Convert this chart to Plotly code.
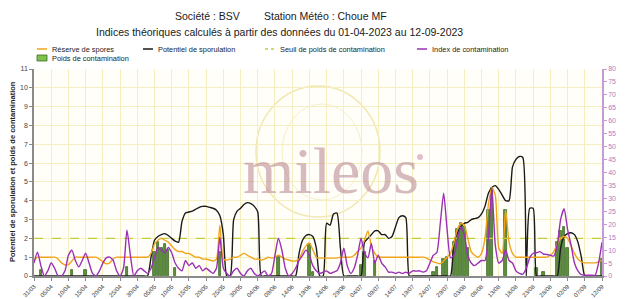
import plotly.graph_objects as go
import pandas as pd

# ---------------- data ----------------
dates = pd.date_range("2023-03-31", "2023-09-12", freq="D")  # 166 days

potentiel = [0]*34 + [
    1.0, 1.9, 2.1, 2.2, 2.25, 2.15, 2.0, 1.85, 1.8, 2.9, 3.35, 3.4, 3.45, 3.55, 3.65, 3.7, 3.7,
    3.65, 3.6, 3.5, 3.2, 2.2, 0, 0, 3.0, 3.45, 3.6, 3.8, 3.9, 3.85, 3.7, 3.4, 0] + [0]*10 + [
    1.2, 1.9, 2.15, 2.2, 2.1, 1.5, 0, 0, 2.8, 2.7, 3.3, 3.35, 1.5, 0] + [0]*5 + [
    1.8, 2.0, 2.2, 2.4, 2.4, 2.2, 2.2, 2.0, 2.1, 2.6, 3.1, 3.2, 3.1, 0] + [0]*12 + [
    1.8, 2.3, 2.6, 2.8, 2.85, 3.0, 3.05, 3.1, 3.3, 3.7, 4.4, 4.7, 4.8, 4.6, 4.3, 4.0, 4.0,
    5.8, 6.2, 6.35, 6.3, 0, 3.6, 3.6, 0] + [0]*6 + [
    1.5, 2.1, 2.25, 2.3, 2.2, 1.8, 1.0] + [0]*6

reserve = [
    0.8, 1.0, 1.0, 1.0, 1.0, 1.0, 1.0, 0.9, 0.7, 0.6, 0.6, 0.8, 1.0, 1.0, 1.0, 1.0, 1.0, 1.0,
    1.0, 0.9, 0.75, 0.65, 0.7, 0.9, 1.0, 1.0, 1.0, 1.0, 1.0, 1.0, 1.0, 1.0, 1.0, 1.0,
    1.2, 1.7, 1.9, 2.0, 1.9, 1.8, 1.6, 1.4, 1.3, 1.3, 1.2, 1.2, 1.1, 1.0, 1.0, 0.9, 0.9, 0.85,
    0.8, 0.9, 2.7, 0.9,
    0.85, 0.9, 1.0, 1.0, 1.1, 1.2, 1.1, 1.0, 0.9, 0.9, 0.85, 0.9, 1.0, 0.95, 1.0, 1.1, 1.0,
    0.9, 0.85, 0.8, 0.8, 0.9, 1.3, 1.6, 1.75, 1.4, 1.0,
    0.95, 0.95, 0.95, 0.95, 0.95, 0.95, 1.0, 1.0, 1.0, 1.0, 1.1, 1.3, 1.5, 1.9, 2.4, 1.6, 1.2,
    1.0, 1.0, 1.0, 1.0, 1.0, 1.0, 1.0, 1.0, 1.0, 1.0, 1.0, 1.0, 1.0, 1.0, 0.95, 0.85, 0.75,
    0.7, 0.65, 0.8, 1.0, 1.2,
    1.8, 2.5, 2.8, 2.7, 2.0, 1.3, 1.1, 1.0, 1.2, 2.0, 3.8, 4.7, 4.3, 1.5, 1.2, 3.5, 1.8, 1.2,
    1.0, 1.0, 1.0, 1.0, 1.0, 1.0, 1.0, 1.0, 1.0, 1.0, 1.1, 1.3, 1.7, 2.0, 2.1, 2.0, 1.6, 1.2,
    0.9, 0.75, 0.7, 0.7, 0.7, 0.7, 0.75, 0.85]

index_contamination = [
    5, 9.2, 4, 0, 2, 5, 3, 0, 0, 2, 8, 10, 6, 3.5, 6, 8.8, 5, 1, 0, 2, 5, 7, 7.3, 6, 2, 0, 3,
    17.7, 8, 0, 2, 3, 2, 1,
    3, 7, 11, 10, 9, 11, 9, 5, 3, 2, 6, 4, 5, 3, 4, 2, 3, 2, 1, 3, 15, 3,
    1, 0, 2, 3, 1, 0, 2, 3, 1, 0, 1, 2, 0, 1, 8, 14.6, 10, 3, 0, 1, 3, 6, 8, 10, 8, 4, 2,
    1, 1.5, 2, 1, 1.5, 2, 5, 10.7, 4, 1, 3, 8, 14.6, 8.8, 7, 12.6, 5, 8, 5, 3.5, 1.5, 1.5, 1,
    1.5, 1, 1.5, 1, 2, 1.9, 2, 1.5, 2, 5, 8, 9, 20, 32, 18, 7,
    8, 14, 19, 16, 8, 5, 4, 5, 6, 6, 15, 34, 12, 5, 6, 10, 6, 5,
    2, 1, 0.7, 3, 7, 8.8, 9, 9.4, 8.5, 8.3, 8, 7.7, 12, 22, 26, 18, 12, 5, 2, 0.5, 0.3, 0.3,
    0.3, 0.3, 5, 13]

poids_jours = ["2023-04-02", "2023-04-11", "2023-04-15", "2023-04-27", "2023-05-05",
               "2023-05-06", "2023-05-07", "2023-05-08", "2023-05-09", "2023-05-11",
               "2023-05-24", "2023-06-10", "2023-06-19", "2023-06-20", "2023-07-04",
               "2023-07-05", "2023-07-08", "2023-07-25", "2023-07-26", "2023-07-28",
               "2023-07-29", "2023-07-31", "2023-08-01", "2023-08-02", "2023-08-03",
               "2023-08-04", "2023-08-10", "2023-08-11", "2023-08-15", "2023-08-24",
               "2023-08-26", "2023-08-30", "2023-08-31", "2023-09-01", "2023-09-02",
               "2023-09-12"]
poids_valeurs = [0.3, 0.3, 0.3, 0.5, 1.3, 1.8, 1.5, 1.7, 1.4, 0.4, 1.3, 1.0, 1.7, 0.2, 0.6,
                 1.3, 0.8, 0.2, 0.5, 0.9, 1.0, 1.8, 2.5, 2.8, 2.6, 1.5, 3.5, 4.7, 3.5, 0.4,
                 0.2, 1.8, 2.4, 2.6, 1.5, 0.9]

seuil = 2

# ---------------- layout helpers (window pixel -> paper) ----------------
OFF = 8                      # page offset of the figure inside the window
WIN_W, WIN_H = 627, 299
W, H = WIN_W - OFF, WIN_H - OFF
L, R, T, B = 34, 602, 69, 276   # plot area in window pixels
def px(x):
    return (x - L) / (R - L)
def py(y):
    return (B - y) / (B - T)

FONT = "Liberation Sans, Arial, sans-serif"
ORANGE = "#f0a41c"
BLACK = "#1a1a1a"
PURPLE = "#9b2fb5"
SEUIL_C = "#c3cf3a"
GREEN = "#7cc24a"
GREEN_D = "#3f6b2a"
GRID = "#f4eec0"

fig = go.Figure()

fig.add_trace(go.Bar(x=poids_jours, y=poids_valeurs, name="Poids de contamination",
                     width=0.7 * 86400000, marker=dict(color="#5e8f3c",
                     line=dict(color=GREEN_D, width=0.8)), showlegend=False))
fig.add_trace(go.Scatter(x=[dates[0], dates[-1]], y=[seuil, seuil], mode="lines",
                         name="Seuil de poids de contamination",
                         line=dict(color=SEUIL_C, width=1.2, dash="dash"), showlegend=False))
fig.add_trace(go.Scatter(x=dates, y=potentiel, mode="lines", name="Potentiel de sporulation",
                         line=dict(color=BLACK, width=1.4, shape="spline", smoothing=0.6),
                         showlegend=False))
fig.add_trace(go.Scatter(x=dates, y=reserve, mode="lines", name="Réserve de spores",
                         line=dict(color=ORANGE, width=1.4, shape="spline", smoothing=0.6),
                         showlegend=False))
fig.add_trace(go.Scatter(x=dates, y=index_contamination, mode="lines", yaxis="y2",
                         name="Index de contamination",
                         line=dict(color=PURPLE, width=1.4, shape="spline", smoothing=0.6),
                         showlegend=False))

annotations = []
shapes = []

def text(t, x, y, size, color="#222", xanchor="center", angle=0, family=FONT):
    annotations.append(dict(text=t, xref="paper", yref="paper", x=px(x), y=py(y),
                            xanchor=xanchor, yanchor="middle", textangle=angle,
                            showarrow=False, font=dict(family=family, size=size, color=color)))

# watermark
shapes.append(dict(type="circle", xref="paper", yref="paper", layer="below",
                   x0=px(256), x1=px(380), y0=py(217), y1=py(86),
                   line=dict(color="#f3e7b0", width=1.5)))
shapes.append(dict(type="circle", xref="paper", yref="paper", layer="below",
                   x0=px(282), x1=px(362), y0=py(200), y1=py(104),
                   line=dict(color="#f7efc8", width=1)))
text("mileos", 331, 170, 66, "rgba(180,130,140,0.55)",
     family="Liberation Serif, Times New Roman, serif")
shapes.append(dict(type="circle", xref="paper", yref="paper", layer="below",
                   x0=px(417), x1=px(423), y0=py(160), y1=py(154),
                   fillcolor="rgba(215,160,190,0.7)", line=dict(width=0)))

# titles
text("Société : BSV", 207, 16, 10.5, "#1a1a1a")
text("Station Météo : Choue MF", 325, 16, 10.5, "#1a1a1a")
text("Indices théoriques calculés à partir des données du 01-04-2023 au 12-09-2023",
     279, 32, 10.5, "#1a1a1a")

# manual legend
leg = [
    ("Réserve de spores", 37, 49, ORANGE, "solid"),
    ("Potentiel de sporulation", 143, 49, BLACK, "solid"),
    ("Seuil de poids de contamination", 265, 49, SEUIL_C, "dot"),
    ("Index de contamination", 417, 49, PURPLE, "solid"),
]
for t, x0, y0, col, dash in leg:
    shapes.append(dict(type="line", xref="paper", yref="paper", x0=px(x0), x1=px(x0 + 10),
                       y0=py(y0), y1=py(y0), line=dict(color=col, width=1.5, dash=dash)))
    text(t, x0 + 13, y0, 7.4, xanchor="left")
shapes.append(dict(type="rect", xref="paper", yref="paper", x0=px(37), x1=px(47),
                   y0=py(61), y1=py(55), fillcolor=GREEN, line=dict(color=GREEN_D, width=0.8)))
text("Poids de contamination", 50, 58, 7.4, xanchor="left")

# axis titles
text("<b>Potentiel de sporulation et poids de contamination</b>", 12, 172, 7.5, angle=-90)
text("Index de contamination", 621, 172, 7, "#a040b8", angle=-90)

fig.update_layout(
    width=W, height=H,
    margin=dict(l=L - OFF, r=WIN_W - R, t=T - OFF, b=WIN_H - B, pad=0, autoexpand=False),
    paper_bgcolor="white", plot_bgcolor="#fffef8",
    font=dict(family=FONT, size=7, color="#333"),
    bargap=0, showlegend=False,
    xaxis=dict(type="date", range=["2023-03-31", "2023-09-12"], tick0="2023-03-31",
               dtick=5 * 86400000, tickformat="%d/%m", tickangle=-45,
               tickfont=dict(size=6, color="#333"), showgrid=True, gridcolor=GRID,
               gridwidth=1, showline=True, linecolor="#8a8a8a", linewidth=1.5,
               ticks="outside", ticklen=3, tickcolor="#8a8a8a", automargin=False,
               zeroline=False),
    yaxis=dict(range=[0, 11], dtick=1, tickfont=dict(size=7, color="#444"), showgrid=True,
               gridcolor=GRID, showline=True, linecolor="#8a8a8a", linewidth=1.5,
               ticks="outside", ticklen=3, tickcolor="#8a8a8a", zeroline=False,
               automargin=False),
    yaxis2=dict(range=[0, 80], dtick=5, overlaying="y", side="right",
                tickfont=dict(size=7, color="#b07cc4"), showgrid=False, showline=True,
                linecolor="#c79ad6", linewidth=1.5, ticks="outside", ticklen=3,
                tickcolor="#c79ad6", zeroline=False, automargin=False),
    shapes=shapes, annotations=annotations,
)

fig.write_html("out.html")
